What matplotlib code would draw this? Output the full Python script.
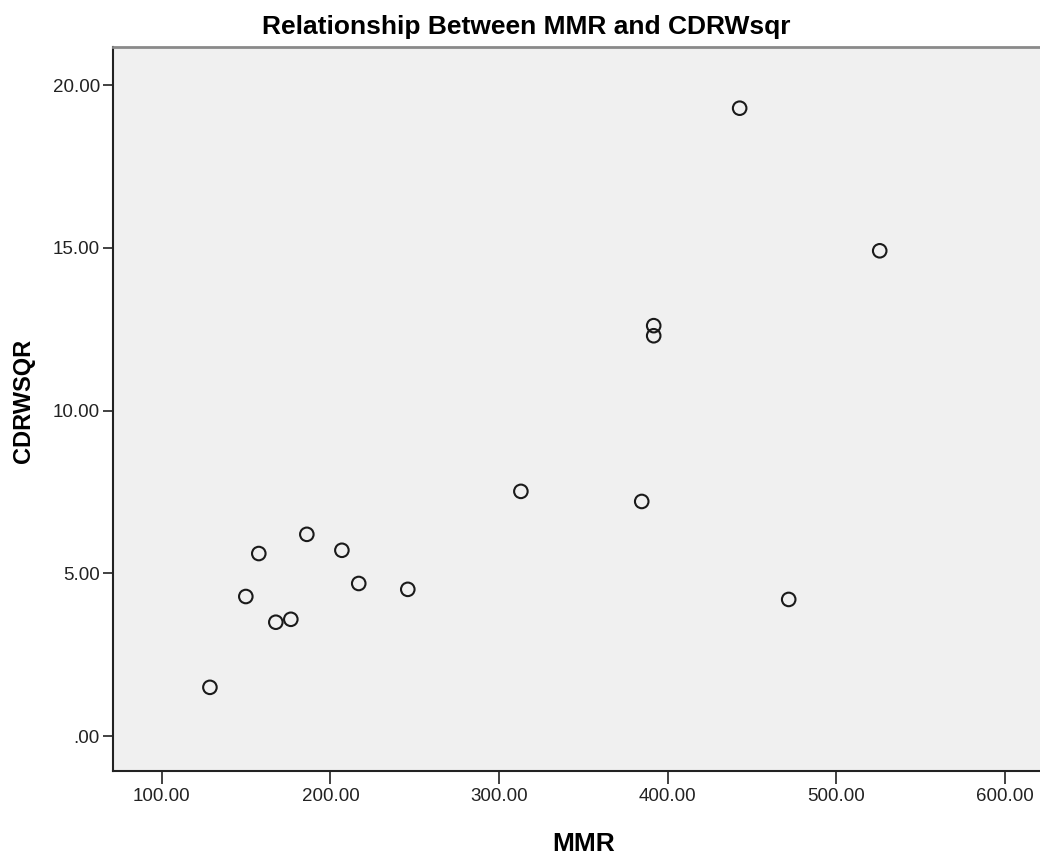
import numpy as np
import matplotlib.pyplot as plt

# MMR vs CDRWsqr
mmr = [128.5, 149.8, 157.5, 167.6, 176.5, 186.0, 206.8, 216.8, 245.9,
       313.0, 384.7, 391.8, 391.8, 442.8, 471.9, 525.9]
cdrwsqr = [1.50, 4.29, 5.61, 3.50, 3.59, 6.20, 5.71, 4.69, 4.51,
           7.52, 7.21, 12.61, 12.30, 19.29, 4.20, 14.91]

x_ticks = [100, 200, 300, 400, 500, 600]
y_ticks = [0, 5, 10, 15, 20]

font = ['Liberation Sans', 'DejaVu Sans']

fig = plt.figure(figsize=(10.4, 8.57), dpi=100)
ax = fig.add_axes([113 / 1040, 1 - 771 / 857, 1 - 113 / 1040, (771 - 47) / 857])
ax.set_facecolor('#f0f0f0')

ax.scatter(mmr, cdrwsqr, s=95, facecolors='none', edgecolors='#1a1a1a',
           linewidths=1.5, zorder=3)

ax.set_xlim(71, 621)
ax.set_ylim(-1.07, 21.17)
ax.set_xticks(x_ticks)
ax.set_xticklabels([f'{v:.2f}' for v in x_ticks], family=font, fontsize=13.5,
                   color='#222222')
ax.set_yticks(y_ticks)
ax.set_yticklabels(['.00' if v == 0 else f'{v:.2f}' for v in y_ticks],
                   family=font, fontsize=13.5, color='#222222')
ax.tick_params(axis='x', direction='out', length=9, width=1.3, color='#333333', pad=3)
ax.tick_params(axis='y', direction='out', length=7.5, width=1.3, color='#333333', pad=2)

ax.spines['right'].set_visible(False)
ax.spines['top'].set_color('#8a8a8a')
ax.spines['top'].set_linewidth(2)
for side in ('left', 'bottom'):
    ax.spines[side].set_color('#222222')
    ax.spines[side].set_linewidth(1.5)

fig.text(526 / 1040, 1 - 27 / 857, 'Relationship Between MMR and CDRWsqr',
         family=font, fontsize=19, fontweight='bold', ha='center', va='center')
fig.text(584 / 1040, 1 - 844 / 857, 'MMR', family=font, fontsize=19,
         fontweight='bold', ha='center', va='center')
fig.text(24 / 1040, 1 - 401 / 857, 'CDRWSQR', family=font, fontsize=17,
         fontweight='bold', ha='center', va='center', rotation=90)

fig.savefig('out.png', dpi=100, facecolor='white')
